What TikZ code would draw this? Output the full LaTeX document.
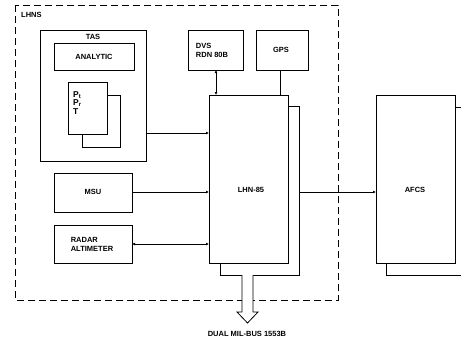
\documentclass[tikz,border=0pt]{standalone}
\usepackage{fontspec}
\setmainfont{Liberation Sans}
\usetikzlibrary{arrows.meta}
\begin{document}
\begin{tikzpicture}[x=1pt,y=-1pt,
  box/.style={draw,line width=1pt,fill=white},
  lbl/.style={font=\bfseries\fontsize{7.5}{9}\selectfont,align=left,inner sep=0pt},
  conn/.style={line width=0.9pt},
  tip/.style={-{Latex[length=3pt,width=3pt]}},
  tips/.style={{Latex[length=3pt,width=3pt]}-{Latex[length=3pt,width=3pt]}}]
\useasboundingbox (0,0) rectangle (461,343);
% outer dashed frame
\draw[line width=0.9pt,dash pattern=on 7pt off 4pt] (15,5) rectangle (338,300);
\node[lbl,anchor=west] (lhns) at (21,15) {LHNS};
% TAS
\draw[box] (40,30) rectangle (146,161);
\coordinate (tasE) at (146,133);
\node[lbl] (tas) at (93,37) {TAS};
\draw[box] (54,43) rectangle (134,70);
\node[lbl] (ana) at (94,56.5) {ANALYTIC};
\draw[box] (82,95) rectangle (120,147);
\draw[box] (68,82) rectangle (107,134);
\node[lbl,anchor=north west,font=\bfseries\fontsize{8.5}{9.5}\selectfont] (pp) at (73,91) {P\textsubscript{t}\\[-1pt]P\textsubscript{r}\\[-1pt]T};
% DVS and GPS
\draw[box] (188,30) rectangle (243,70);
\node[lbl] (dvs) at (212,50) {DVS\\RDN 80B};
\draw[box] (256,30) rectangle (308,70);
\node[lbl] (gps) at (281,50) {GPS};
% LHN-85
\draw[box] (220,106) rectangle (299,275);
\draw[box] (209,95) rectangle (288,263);
\node[lbl] (lhn) at (251,190) {LHN-85};
% MSU & radar
\draw[box] (54,173) rectangle (132,212);
\node[lbl] (msu) at (93,192) {MSU};
\draw[box] (54,225) rectangle (132,263);
\node[lbl] (rad) at (92,244) {RADAR\\ALTIMETER};
% AFCS
\draw[line width=1pt] (386,263) -- (386,275) -- (461,275);
\draw[line width=1pt] (455,107) -- (461,107);
\draw[box] (376,95) rectangle (455,263);
\node[lbl] (afcs) at (415,190) {AFCS};
% connectors
\draw[conn,tip] (tasE) -- (209,133);
\draw[conn,tip] (132,192) -- (209,192);
\draw[conn,tips] (132,244) -- (209,244);
\draw[conn,tips] (216,70) -- (216,95);
\draw[conn] (280,70) -- (280,95);
\draw[conn,tip] (299,192) -- (376,192);
% bus arrow
\draw[line width=0.8pt,fill=white] (242,275) -- (242,312) -- (237,312) -- (247.5,323) -- (258,312) -- (253,312) -- (253,275);
\node[lbl] (bus) at (247,334) {DUAL MIL-BUS 1553B};
\end{tikzpicture}
\end{document}
